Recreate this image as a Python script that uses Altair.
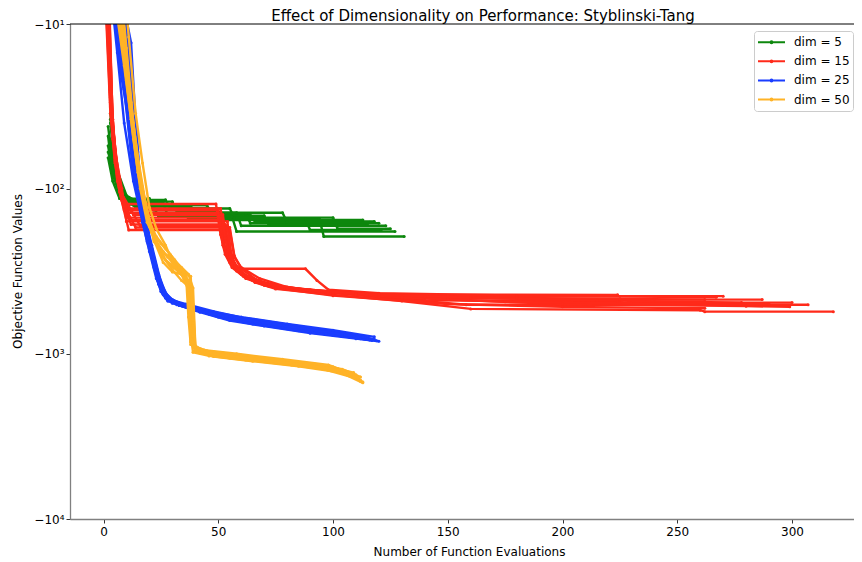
import altair as alt
import pandas as pd

# ---- data: (evaluation, best objective value) per run ----
DIM5_RUNS = [
    [(2,-42),(4,-70),(6,-95),(9,-117),(27,-117),(29,-131),(45,-131),(47,-145),(64,-145),(66,-158),(118,-158)],
    [(3,-38),(5,-65),(7,-90),(11,-125),(34,-125),(36,-140),(58,-140),(60,-168),(123,-168)],
    [(2,-55),(4,-80),(8,-105),(14,-130),(22,-130),(24,-148),(56,-148),(58,-182),(127,-182)],
    [(3,-50),(6,-88),(10,-112),(17,-135),(40,-135),(42,-152),(94,-152),(96,-195),(131,-195)],
    [(2,-60),(5,-85),(9,-120),(30,-120),(32,-138),(50,-138),(52,-155),(113,-155)],
    [(4,-45),(6,-78),(10,-110),(18,-128),(38,-128),(40,-142),(62,-142),(64,-162),(120,-162)],
    [(3,-35),(5,-72),(8,-100),(12,-122),(26,-122),(28,-146),(70,-146),(72,-165),(115,-165)],
    [(2,-48),(4,-82),(7,-108),(15,-132),(55,-132),(57,-150),(100,-150),(102,-175),(125,-175)],
    [(3,-40),(5,-75),(8,-102),(13,-126),(45,-126),(47,-140),(78,-140),(80,-160),(116,-160)],
    [(2,-65),(4,-90),(7,-115),(20,-115),(22,-135),(35,-135),(37,-153),(88,-153),(90,-178),(121,-178)],
]
DIM15_RUNS = [
    [(1,-4),(3,-22),(5,-60),(8,-100),(10,-158),(54,-158),(55,-230),(57,-280),(60,-320),(66,-370),(75,-405),(100,-440),(130,-480),(160,-535),(260,-545),(262,-556),(318,-556)],
    [(1,-6),(3,-30),(6,-75),(9,-124),(49,-124),(51,-190),(53,-250),(56,-300),(62,-350),(72,-390),(95,-420),(120,-455),(158,-505),(307,-505)],
    [(2,-5),(4,-40),(6,-85),(8,-112),(13,-144),(52,-144),(54,-240),(56,-290),(61,-340),(70,-385),(90,-410),(115,-440),(140,-475),(224,-480),(226,-490),(300,-490)],
    [(1,-8),(3,-35),(5,-70),(7,-105),(11,-178),(55,-178),(57,-260),(60,-300),(68,-350),(80,-395),(100,-425),(130,-460),(225,-465),(227,-470),(287,-470)],
    [(2,-7),(4,-45),(6,-90),(9,-135),(50,-135),(52,-220),(55,-280),(59,-306),(88,-306),(93,-360),(98,-410),(120,-430),(180,-445),(267,-455)],
    [(1,-5),(3,-28),(5,-65),(8,-118),(12,-165),(53,-165),(55,-250),(58,-300),(63,-350),(75,-400),(100,-445),(150,-500),(200,-520),(262,-530)],
    [(2,-9),(4,-50),(7,-100),(10,-150),(51,-150),(53,-230),(56,-290),(60,-330),(72,-380),(90,-415),(120,-438),(224,-440)],
    [(1,-4),(3,-25),(5,-58),(8,-108),(16,-168),(54,-168),(56,-270),(59,-310),(64,-355),(78,-398),(110,-430),(150,-445),(180,-448),(270,-448)],
    [(1,-5),(3,-26),(5,-62),(7,-98),(11,-140),(50,-140),(52,-210),(55,-275),(58,-315),(65,-360),(80,-402),(105,-432),(140,-452),(180,-460),(240,-468),(262,-470)],
    [(2,-6),(4,-38),(6,-80),(9,-128),(14,-172),(55,-172),(57,-255),(60,-305),(67,-360),(82,-405),(110,-440),(150,-470),(200,-500),(280,-515),(299,-520)],
    [(1,-7),(3,-32),(5,-68),(8,-115),(12,-155),(52,-155),(54,-225),(57,-285),(62,-335),(74,-390),(98,-425),(130,-455),(175,-485),(230,-495),(290,-500)],
    [(2,-4),(4,-42),(7,-95),(10,-132),(51,-132),(53,-200),(56,-285),(60,-325),(70,-375),(88,-410),(115,-436),(160,-458),(215,-475),(278,-490)],
]
DIM25_RUNS = [
    [(3,-3),(5,-7),(7,-12),(10,-28),(13,-70),(16,-120),(19,-200),(22,-300),(25,-420),(28,-480),(35,-510),(45,-550),(60,-600),(80,-660),(100,-720),(118,-790)],
    [(4,-4),(7,-9),(10,-20),(12,-50),(15,-100),(18,-170),(21,-260),(24,-380),(27,-460),(33,-510),(42,-560),(55,-630),(70,-680),(90,-750),(110,-810),(120,-840)],
    [(2,-4),(4,-8),(6,-15),(9,-40),(13,-90),(17,-160),(20,-240),(23,-350),(26,-440),(31,-490),(40,-525),(52,-590),(68,-650),(88,-710),(105,-770),(115,-815)],
    [(5,-5),(8,-11),(11,-14),(13,-27),(15,-60),(17,-140),(21,-230),(24,-330),(27,-430),(30,-470),(38,-530),(50,-600),(65,-660),(85,-725),(100,-770),(112,-800)],
    [(3,-6),(6,-10),(8,-16),(11,-35),(14,-85),(18,-150),(22,-270),(25,-400),(29,-470),(36,-500),(48,-555),(62,-610),(80,-665),(98,-725),(114,-790),(119,-835)],
    [(4,-3),(8,-6),(11,-14),(13,-45),(16,-110),(19,-190),(23,-320),(26,-430),(30,-495),(40,-545),(55,-615),(72,-675),(92,-745),(108,-795),(116,-825)],
    [(2,-5),(5,-9),(7,-18),(10,-32),(13,-80),(17,-150),(20,-230),(24,-360),(28,-455),(34,-500),(44,-560),(58,-620),(75,-685),(95,-755),(112,-810)],
    [(6,-4),(10,-10),(12,-22),(14,-75),(17,-130),(21,-220),(25,-370),(28,-450),(33,-510),(46,-575),(60,-630),(78,-690),(97,-760),(110,-800),(117,-830)],
    [(3,-7),(6,-12),(9,-25),(12,-60),(15,-115),(19,-210),(23,-310),(26,-410),(30,-480),(38,-520),(50,-580),(66,-640),(86,-700),(104,-760),(113,-790)],
    [(5,-3),(9,-8),(12,-13),(14,-40),(16,-95),(20,-200),(24,-340),(27,-445),(32,-505),(42,-550),(57,-605),(74,-660),(94,-730),(109,-785),(118,-815)],
]
DIM50_RUNS = [
    [(4,-3),(7,-8),(10,-20),(13,-45),(16,-90),(19,-150),(22,-200),(26,-240),(30,-280),(35,-330),(37,-360),(38,-700),(39,-900),(45,-960),(60,-1020),(80,-1100),(100,-1200),(112,-1380)],
    [(5,-4),(8,-10),(11,-25),(14,-60),(17,-110),(20,-170),(24,-230),(28,-260),(33,-300),(38,-390),(39,-650),(40,-960),(48,-1040),(65,-1110),(85,-1190),(105,-1310),(113,-1480)],
    [(3,-5),(6,-9),(9,-18),(12,-38),(15,-80),(18,-130),(21,-185),(25,-215),(29,-250),(34,-310),(36,-340),(37,-600),(38,-880),(44,-950),(58,-1000),(78,-1080),(98,-1170),(110,-1350)],
    [(6,-3),(9,-12),(12,-30),(15,-70),(18,-120),(21,-180),(25,-250),(29,-290),(33,-320),(37,-370),(39,-500),(40,-900),(42,-990),(55,-1060),(75,-1130),(95,-1230),(111,-1420)],
    [(4,-4),(7,-9),(10,-22),(13,-50),(16,-100),(19,-160),(23,-210),(27,-270),(31,-300),(36,-350),(38,-420),(39,-850),(41,-970),(52,-1040),(70,-1110),(90,-1200),(108,-1330),(112,-1470)],
    [(5,-6),(8,-13),(11,-28),(14,-55),(17,-100),(20,-160),(23,-195),(27,-230),(31,-270),(35,-320),(38,-340),(39,-780),(40,-930),(50,-990),(68,-1055),(88,-1140),(104,-1240),(110,-1340)],
    [(3,-3),(6,-8),(9,-16),(12,-35),(15,-75),(18,-125),(22,-190),(26,-260),(30,-310),(34,-360),(37,-390),(38,-760),(39,-980),(46,-1030),(62,-1090),(82,-1170),(102,-1270),(113,-1500)],
    [(7,-5),(10,-14),(13,-40),(16,-85),(19,-140),(22,-210),(26,-245),(30,-265),(34,-300),(37,-330),(39,-400),(40,-890),(43,-960),(56,-1020),(74,-1080),(94,-1160),(109,-1300)],
    [(8,-4),(11,-12),(14,-35),(17,-70),(20,-130),(23,-175),(27,-220),(31,-300),(35,-345),(38,-380),(40,-920),(47,-1000),(63,-1065),(83,-1150),(103,-1250),(111,-1410)],
    [(6,-5),(9,-15),(12,-32),(15,-65),(18,-115),(22,-205),(26,-280),(30,-320),(34,-330),(37,-410),(38,-850),(40,-950),(50,-1010),(66,-1080),(86,-1160),(106,-1280),(112,-1440)],
]

SERIES = ["dim = 5", "dim = 15", "dim = 25", "dim = 50"]
COLORS = ["#0d870d", "#ff2a1a", "#1a3dff", "#ffb327"]
X_TICKS = [0, 50, 100, 150, 200, 250, 300]
Y_TICKS = [-10, -100, -1000, -10000]

rows = []
for name, runs in zip(SERIES, [DIM5_RUNS, DIM15_RUNS, DIM25_RUNS, DIM50_RUNS]):
    for r, run in enumerate(runs):
        for ev, val in run:
            rows.append({"series": name, "run": f"{name}-{r}", "eval": ev, "value": val})
df = pd.DataFrame(rows)

W, H = 784, 495

xscale = alt.Scale(domain=[-14.6, 327], nice=False, zero=False)
yscale = alt.Scale(type="symlog", constant=0.1, domain=[-10000, -10], nice=False, zero=False)
cscale = alt.Scale(domain=SERIES, range=COLORS)

ylabel = ("datum.value == -10 ? '\u221210\u00b9' : datum.value == -100 ? '\u221210\u00b2' : "
          "datum.value == -1000 ? '\u221210\u00b3' : '\u221210\u2074'")

xaxis = alt.Axis(values=X_TICKS, title="Number of Function Evaluations", grid=False,
                 titleX=399, titleY=32, titleBaseline="middle", titleAlign="center")
yaxis = alt.Axis(values=Y_TICKS, labelExpr=ylabel, title="Objective Function Values", grid=False,
                 titleX=-53, titleY=247, titleAlign="center", titleBaseline="middle", titleAngle=270)

layers = []
for i, name in enumerate(SERIES):
    sub = df[df.series == name]
    enc = dict(
        x=alt.X("eval:Q", scale=xscale, axis=xaxis),
        y=alt.Y("value:Q", scale=yscale, axis=yaxis),
        color=alt.Color("series:N", scale=cscale,
                        legend=alt.Legend(title=None, orient="none", legendX=684, legendY=7)),
        detail="run:N",
    )
    line = alt.Chart(sub).mark_line(strokeWidth=2.4, clip=True).encode(
        order=alt.Order("eval:Q"), **enc)
    pts = alt.Chart(sub).mark_circle(size=9, opacity=1, clip=True).encode(**enc)
    layers += [line, pts]

top_line = alt.Chart(pd.DataFrame({"v": [0]})).mark_rule(color="black", strokeWidth=1).encode(
    x=alt.value(0), x2=alt.value(W), y=alt.value(0))
layers.append(top_line)

chart = alt.layer(*layers).properties(
    width=W, height=H,
    title=alt.TitleParams("Effect of Dimensionality on Performance: Styblinski-Tang",
                          fontSize=15, font="DejaVu Sans", fontWeight="normal",
                          anchor="middle", baseline="alphabetic", offset=7, dx=21, dy=25,
                          color="black"),
    autosize=alt.AutoSizeParams(type="none"),
    padding={"left": 62, "top": 16, "right": 0, "bottom": 40},
).configure_view(stroke=None).configure_axis(
    labelFont="DejaVu Sans", titleFont="DejaVu Sans", labelFontSize=12, titleFontSize=12,
    titleFontWeight="normal", labelColor="black", titleColor="black",
    domainColor="#808080", domainWidth=1.3, tickColor="#333333", tickSize=4, labelPadding=3,
).configure_axisY(labelPadding=2).configure_legend(
    labelFont="DejaVu Sans", labelFontSize=12, labelColor="black",
    symbolType="M-1,0H1M-0.07,0A0.07,0.07,0,1,1,0.07,0A0.07,0.07,0,1,1,-0.07,0",
    symbolSize=729, symbolStrokeWidth=2, labelOffset=8, padding=3,
    clipHeight=16.5, rowPadding=2.1,
    strokeColor="#cccccc", fillColor="white", cornerRadius=3,
)

chart.save("out.html", embed_options={"renderer": "svg", "actions": False})
